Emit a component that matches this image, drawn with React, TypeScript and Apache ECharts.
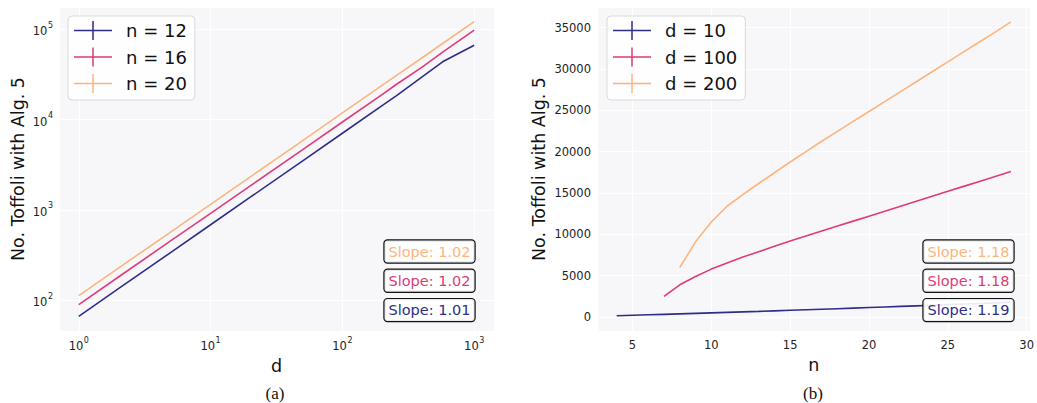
import React, { useEffect, useRef } from 'react';
import * as echarts from 'echarts';

// ---- Data (panel a): Toffoli count vs d (log-log) ----
const dValues = [1, 2, 5, 10, 20, 50, 100, 200, 256, 400, 576, 1000];
const toffN12 = [66, 134, 338, 683, 1380, 3490, 7060, 14300, 18350, 29600, 43700, 66800];
const toffN16 = [89, 180, 455, 915, 1840, 4650, 9400, 18900, 24500, 38000, 56000, 98000];
const toffN20 = [112, 226, 570, 1150, 2320, 5860, 11850, 23900, 30700, 48200, 69700, 121600];

// ---- Data (panel b): Toffoli count vs n ----
const nD10 = [4, 5, 6, 7, 8, 9, 10, 11, 12, 13, 14, 15, 16, 17, 18, 19, 20, 21, 22, 23, 24, 25, 26, 27, 28, 29];
const toffD10 = [170, 222, 276, 331, 388, 446, 506, 567, 629, 691, 755, 820, 884, 950, 1018, 1085, 1154, 1223, 1293, 1362, 1434, 1505, 1576, 1650, 1722, 1795];
const nD100 = [7, 8, 9, 10, 11, 12, 13, 14, 15, 16, 17, 18, 19, 20, 21, 22, 23, 24, 25, 26, 27, 28, 29];
const toffD100 = [2500, 3900, 4900, 5800, 6550, 7250, 7900, 8550, 9200, 9800, 10400, 11000, 11600, 12200, 12800, 13400, 14000, 14600, 15200, 15800, 16400, 17000, 17600];
const nD200 = [8, 9, 10, 11, 12, 13, 14, 15, 16, 17, 18, 19, 20, 21, 22, 23, 24, 25, 26, 27, 28, 29];
const toffD200 = [6000, 9100, 11500, 13400, 14800, 16150, 17450, 18750, 20000, 21250, 22450, 23650, 24850, 26050, 27250, 28450, 29650, 30850, 32050, 33250, 34450, 35680];

const leftNames = ['n = 12', 'n = 16', 'n = 20'];
const rightNames = ['d = 10', 'd = 100', 'd = 200'];
// slope labels, top to bottom
const leftSlopes = ['Slope: 1.02', 'Slope: 1.02', 'Slope: 1.01'];
const rightSlopes = ['Slope: 1.18', 'Slope: 1.18', 'Slope: 1.19'];
const captions = ['(a)', '(b)'];

const NAVY = '#2e2d8a';
const PINK = '#e03b76';
const ORANGE = '#fdb47c';
const palette = [NAVY, PINK, ORANGE];
const slopeColors = [ORANGE, PINK, NAVY];

const PLUS = 'path://M0,8.75H38V10.25H0Z M18.25,0H19.75V19H18.25Z';

const zip = (xs: number[], ys: number[]) => xs.map((x, i) => [x, ys[i]]);

const logFmt = (v: number) => {
  const e = Math.log10(v);
  const r = Math.round(e);
  if (Math.abs(e - r) > 1e-6) return '';
  return '{b|10}{s|' + r + '}';
};
const stepFmt = (step: number) => (v: number) => {
  const r = Math.round(v / step) * step;
  if (Math.abs(v - r) > 1e-6) return '';
  return String(r);
};

const FONT = 'DejaVu Sans';
const axisLabel = { fontFamily: FONT, fontSize: 11.5, color: '#222' };
const logRich = {
  b: { fontFamily: FONT, fontSize: 11.5, color: '#222', lineHeight: 16, verticalAlign: 'bottom' },
  s: { fontFamily: FONT, fontSize: 8, color: '#222', lineHeight: 16, verticalAlign: 'top', padding: [0, 0, 0, 0.5] },
};
const splitLine = { show: true, lineStyle: { color: '#ffffff', width: 1 } };
const nameStyle = { fontFamily: FONT, fontSize: 17.5, color: '#111' };

const legendBase = {
  orient: 'vertical' as const,
  top: 16,
  icon: PLUS,
  itemWidth: 38,
  itemHeight: 19,
  itemGap: 7.5,
  symbolKeepAspect: false,
  backgroundColor: 'rgba(255,255,255,0.85)',
  borderColor: '#dadada',
  borderWidth: 1,
  borderRadius: 4,
  padding: [5, 8, 7, 6],
  textStyle: { fontFamily: FONT, fontSize: 18, color: '#111', padding: [0, 0, 0, 9] },
  z: 50,
};

const slopeBox = (text: string, color: string, x: number, y: number) => ({
  type: 'text',
  x,
  y,
  z: 100,
  style: {
    text,
    fill: color,
    font: `14.5px "${FONT}"`,
    backgroundColor: 'rgba(255,255,255,0.9)',
    borderColor: '#111',
    borderWidth: 1.2,
    borderRadius: 3,
    padding: [3, 4, 3, 4],
    lineHeight: 16,
  },
});

export default function App() {
  const ref = useRef<HTMLDivElement>(null);
  useEffect(() => {
    if (!ref.current) return;
    const chart = echarts.init(ref.current, undefined, { renderer: 'svg' });
    const lineSeries = (name: string, data: number[][], idx: number, color: string) => ({
      name,
      type: 'line',
      data,
      xAxisIndex: idx,
      yAxisIndex: idx,
      showSymbol: false,
      symbol: 'none',
      lineStyle: { color, width: 1.6 },
      itemStyle: { color },
      z: 3,
    });
    chart.setOption({
      animation: false,
      color: palette,
      grid: [
        { left: 59, top: 7, width: 435, height: 324, show: true, backgroundColor: '#f7f7fa', borderWidth: 0 },
        { left: 597, top: 7, width: 435, height: 324, show: true, backgroundColor: '#f7f7fa', borderWidth: 0 },
      ],
      xAxis: [
        {
          type: 'log', gridIndex: 0, min: 0.708, max: 1413,
          axisLine: { show: false }, axisTick: { show: false },
          axisLabel: { ...axisLabel, formatter: logFmt, rich: logRich, margin: 5 },
          splitLine, minorSplitLine: { show: false },
          name: 'd', nameLocation: 'middle', nameGap: 19, nameTextStyle: nameStyle,
        },
        {
          type: 'value', gridIndex: 1, min: 2.75, max: 30.25, minInterval: 5, maxInterval: 5, splitNumber: 6,
          axisLine: { show: false }, axisTick: { show: false },
          axisLabel: { ...axisLabel, formatter: stepFmt(5), margin: 8 },
          splitLine,
          name: 'n', nameLocation: 'middle', nameGap: 17, nameTextStyle: nameStyle,
        },
      ],
      yAxis: [
        {
          type: 'log', gridIndex: 0, min: 45.4, max: 177000,
          axisLine: { show: false }, axisTick: { show: false },
          axisLabel: { ...axisLabel, formatter: logFmt, rich: logRich, margin: 6 },
          splitLine, minorSplitLine: { show: false },
          name: 'No. Toffoli with Alg. 5', nameLocation: 'middle', nameGap: 32, nameTextStyle: nameStyle,
        },
        {
          type: 'value', gridIndex: 1, min: -1680, max: 37480, minInterval: 5000, maxInterval: 5000, splitNumber: 8,
          axisLine: { show: false }, axisTick: { show: false },
          axisLabel: { ...axisLabel, formatter: stepFmt(5000), margin: 6 },
          splitLine,
          name: 'No. Toffoli with Alg. 5', nameLocation: 'middle', nameGap: 49, nameTextStyle: nameStyle,
        },
      ],
      legend: [
        { ...legendBase, left: 68, data: leftNames },
        { ...legendBase, left: 607, data: rightNames },
      ],
      series: [
        lineSeries(leftNames[0], zip(dValues, toffN12), 0, NAVY),
        lineSeries(leftNames[1], zip(dValues, toffN16), 0, PINK),
        lineSeries(leftNames[2], zip(dValues, toffN20), 0, ORANGE),
        lineSeries(rightNames[0], zip(nD10, toffD10), 1, NAVY),
        lineSeries(rightNames[1], zip(nD100, toffD100), 1, PINK),
        lineSeries(rightNames[2], zip(nD200, toffD200), 1, ORANGE),
      ],
      graphic: [
        ...leftSlopes.map((t, i) => slopeBox(t, slopeColors[i], 384.5, 240.5 + i * 29.3)),
        ...rightSlopes.map((t, i) => slopeBox(t, slopeColors[i], 923.5, 240.5 + i * 29.3)),
        {
          type: 'text', x: 275, y: 393, z: 100,
          style: { text: captions[0], font: '17px "Liberation Serif"', fill: '#111', textAlign: 'center', textVerticalAlign: 'middle' },
        },
        {
          type: 'text', x: 813, y: 393, z: 100,
          style: { text: captions[1], font: '17px "Liberation Serif"', fill: '#111', textAlign: 'center', textVerticalAlign: 'middle' },
        },
      ],
    });
    return () => chart.dispose();
  }, []);
  return (
    <div
      ref={ref}
      style={{ position: 'fixed', left: 0, top: 0, width: 1037, height: 403, background: '#ffffff' }}
    />
  );
}
